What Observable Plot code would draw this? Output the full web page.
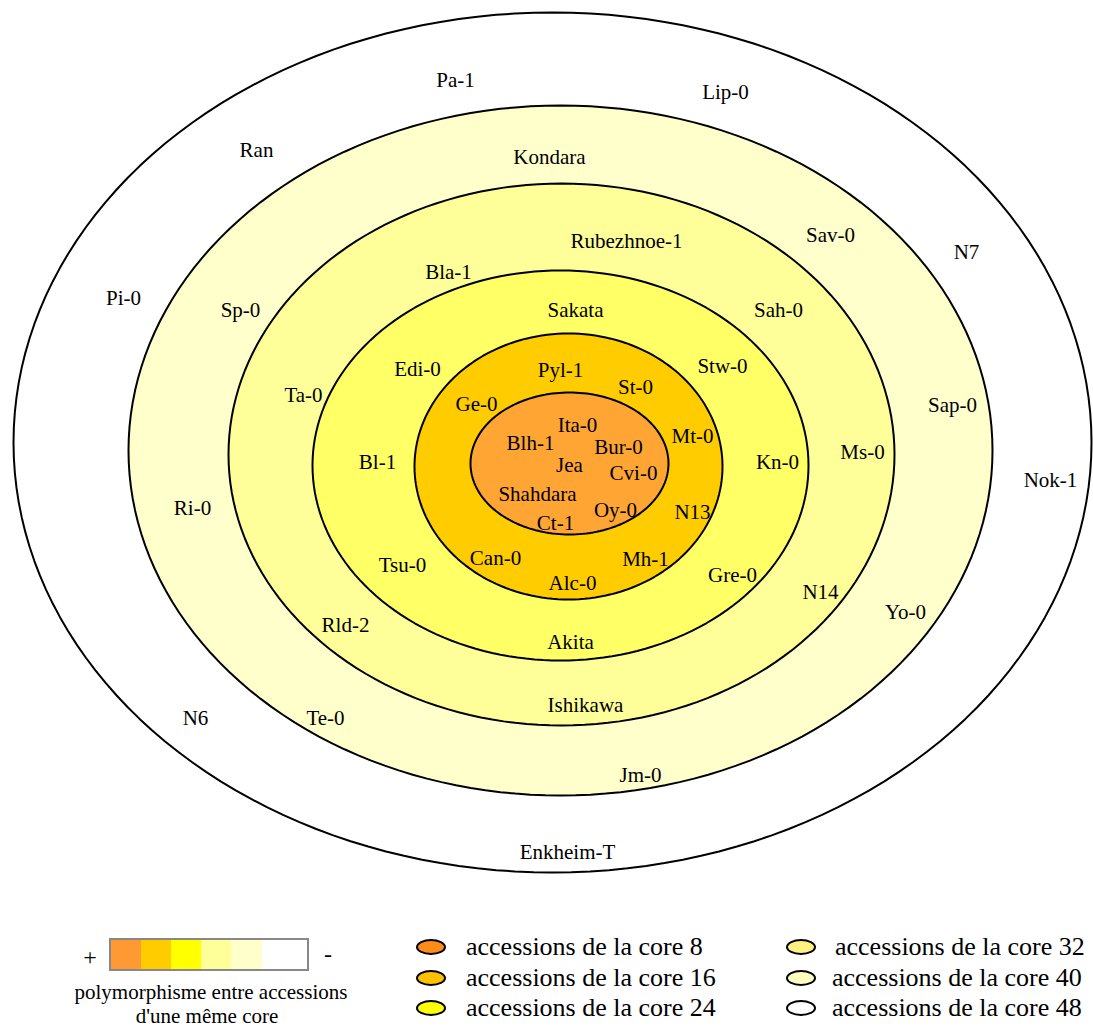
<!DOCTYPE html>
<html>
<head>
<meta charset="utf-8">
<script src="https://cdn.jsdelivr.net/npm/d3@7"></script>
<script src="https://cdn.jsdelivr.net/npm/@observablehq/plot@0.6"></script>
<style>
  html, body { margin: 0; padding: 0; background: #fff; }
  #wrap { width: 1093px; height: 1027px; position: relative; font-family: 'Liberation Serif', 'DejaVu Serif', serif; }
  #wrap svg, #wrap svg text { font-family: 'Liberation Serif', 'DejaVu Serif', serif !important; }
</style>
</head>
<body>
<div id="wrap"></div>
<script>
// ---- Data ----
const ringCores = [48, 40, 32, 24, 16, 8];
const ringFill  = ["#ffffff", "#ffffcc", "#ffff99", "#ffff66", "#ffcc00", "#ffa533"];
const ringCx = [552, 560, 561, 560, 568, 569];
const ringCy = [442, 450, 454, 465, 466, 463];
const ringRx = [539, 432, 333, 248, 154, 99];
const ringRy = [430, 345, 271, 195, 133, 71];

const labelsCore48 = ["Pa-1", "Lip-0", "Ran", "N7", "Pi-0", "Nok-1", "N6", "Enkheim-T"];
const xCore48 = [455, 725, 256, 966, 123, 1050, 195, 567];
const yCore48 = [80, 92, 150, 252, 298, 480, 718, 852];

const labelsCore40 = ["Kondara", "Sav-0", "Sp-0", "Sap-0", "Ri-0", "Yo-0", "Te-0", "Jm-0"];
const xCore40 = [549, 830, 240, 952, 192, 905, 325, 640];
const yCore40 = [157, 235, 310, 405, 508, 612, 718, 775];

const labelsCore32 = ["Rubezhnoe-1", "Bla-1", "Sah-0", "Ta-0", "Ms-0", "N14", "Rld-2", "Ishikawa"];
const xCore32 = [626, 448, 778, 303, 862, 820, 345, 585];
const yCore32 = [241, 272, 310, 395, 452, 592, 625, 705];

const labelsCore24 = ["Sakata", "Edi-0", "Stw-0", "Bl-1", "Kn-0", "Tsu-0", "Gre-0", "Akita"];
const xCore24 = [575, 417, 722, 377, 777, 402, 732, 570];
const yCore24 = [310, 369, 366, 462, 462, 565, 575, 642];

const labelsCore16 = ["Pyl-1", "Ge-0", "St-0", "Mt-0", "N13", "Can-0", "Mh-1", "Alc-0"];
const xCore16 = [560, 476, 635, 692, 692, 495, 645, 572];
const yCore16 = [370, 404, 387, 436, 512, 558, 559, 583];

const labelsCore8 = ["Ita-0", "Blh-1", "Bur-0", "Jea", "Cvi-0", "Shahdara", "Oy-0", "Ct-1"];
const xCore8 = [577, 530, 618, 569, 633, 537, 615, 555];
const yCore8 = [425, 443, 447, 465, 473, 494, 510, 523];

const legendCores  = [8, 16, 24, 32, 40, 48];
const legendColors = ["#ff8c1a", "#ffc000", "#ffff00", "#fff080", "#ffffc0", "#ffffff"];
const gradientColors = ["#ff9933", "#ffcc00", "#ffff00", "#ffff99", "#ffffcc", "#ffffff"];

// ---- Build tables ----
const FONT = "'Liberation Serif', 'DejaVu Serif', serif";
const W = 1093, H = 905;
const ellipses = ringCores.map((c, i) => {
  const n = 180, pts = [];
  for (let k = 0; k < n; k++) {
    const t = 2 * Math.PI * k / n;
    pts.push({core: c, x: ringCx[i] + ringRx[i] * Math.cos(t), y: ringCy[i] + ringRy[i] * Math.sin(t)});
  }
  return pts;
});
const labels = [];
[[labelsCore48, xCore48, yCore48], [labelsCore40, xCore40, yCore40], [labelsCore32, xCore32, yCore32],
 [labelsCore24, xCore24, yCore24], [labelsCore16, xCore16, yCore16], [labelsCore8, xCore8, yCore8]]
  .forEach(([n, xs, ys]) => n.forEach((name, i) => labels.push({name, x: xs[i], y: ys[i]})));

const marks = ellipses.map((pts, i) =>
  Plot.line(pts, {x: "x", y: "y", curve: "linear-closed", fill: ringFill[i], stroke: "#000", strokeWidth: 2})
);
marks.push(Plot.text(labels, {x: "x", y: "y", text: "name", fontSize: 21, fill: "#000", fontFamily: FONT}));

const chart = Plot.plot({
  width: W, height: H,
  margin: 0,
  x: {domain: [0, W], range: [0, W], axis: null},
  y: {domain: [0, H], range: [0, H], axis: null},
  style: {fontFamily: FONT, background: "#fff"},
  marks
});
chart.style.position = "absolute";
chart.style.left = "0px";
chart.style.top = "0px";
document.getElementById("wrap").appendChild(chart);

// ---- Legend (below the SVG) ----
const leg = d3.select("#wrap").append("svg")
  .attr("width", W).attr("height", 122)
  .attr("font-family", FONT)
  .style("position", "absolute").style("left", "0px").style("top", H + "px");

// gradient bar
const segX = [110, 141, 171, 201, 231, 262, 308];
gradientColors.forEach((c, i) => {
  leg.append("rect").attr("x", segX[i]).attr("y", 34).attr("width", segX[i + 1] - segX[i]).attr("height", 31).attr("fill", c);
});
leg.append("rect").attr("x", 110).attr("y", 34).attr("width", 198).attr("height", 31)
  .attr("fill", "none").attr("stroke", "#888").attr("stroke-width", 2);
leg.append("text").attr("x", 90).attr("y", 60).attr("text-anchor", "middle").attr("font-size", 24).text("+");
leg.append("text").attr("x", 328).attr("y", 57).attr("text-anchor", "middle").attr("font-size", 24).text("-");
leg.append("text").attr("x", 211).attr("y", 94).attr("text-anchor", "middle").attr("font-size", 21).text("polymorphisme entre accessions");
leg.append("text").attr("x", 207).attr("y", 118).attr("text-anchor", "middle").attr("font-size", 21).text("d'une même core");

// ellipse swatches
const rowY = [42, 73, 103];
legendCores.forEach((c, i) => {
  const col = i < 3 ? 0 : 1;
  const r = i % 3;
  const ex = col === 0 ? 431 : 801;
  const tx = col === 0 ? 466 : (r === 0 ? 835 : 832);
  leg.append("ellipse").attr("cx", ex).attr("cy", rowY[r]).attr("rx", 14).attr("ry", 7)
    .attr("fill", legendColors[i]).attr("stroke", "#000").attr("stroke-width", 2);
  leg.append("text").attr("x", tx).attr("y", rowY[r] + 8).attr("font-size", 26)
    .text("accessions de la core " + c);
});
</script>
</body>
</html>
